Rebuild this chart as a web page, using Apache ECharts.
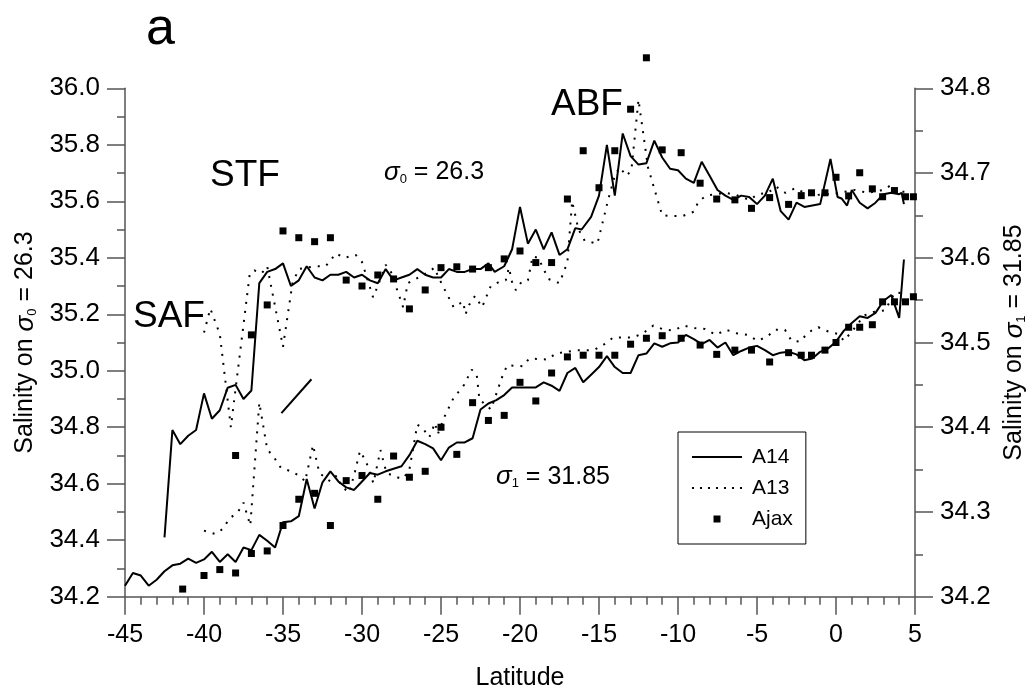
<!DOCTYPE html>
<html><head><meta charset="utf-8">
<script src="https://cdn.jsdelivr.net/npm/echarts/dist/echarts.min.js"></script>
<style>html,body{margin:0;padding:0;background:#fff}#c{width:1034px;height:690px}</style>
</head><body><div id="c"></div>
<script>
// Latitude ticks
const xTicks = [-45, -40, -35, -30, -25, -20, -15, -10, -5, 0, 5];
const leftTicks = ['34.2','34.4','34.6','34.8','35.0','35.2','35.4','35.6','35.8','36.0'];
const rightTicks = ['34.2','34.3','34.4','34.5','34.6','34.7','34.8'];
const legendNames = ['A14', 'A13', 'Ajax'];

// Salinity on sigma0 = 26.3 (left axis)
const a14Upper = [[-42.5,34.41],[-42,34.79],[-41.5,34.74],[-41,34.77],[-40.5,34.79],[-40,34.92],[-39.5,34.83],[-39,34.86],[-38.5,34.94],[-38,34.95],[-37.5,34.90],[-37,34.93],[-36.5,35.31],[-36,35.35],[-35.5,35.36],[-35,35.38],[-34.5,35.30],[-34,35.32],[-33.5,35.37],[-33,35.33],[-32.5,35.32],[-32,35.34],[-31.5,35.34],[-31,35.35],[-30.5,35.33],[-30,35.34],[-29.5,35.32],[-29,35.31],[-28.5,35.36],[-28,35.32],[-27.5,35.33],[-27,35.34],[-26.5,35.36],[-26,35.34],[-25.5,35.33],[-25,35.33],[-24.5,35.36],[-24,35.35],[-23.5,35.35],[-23,35.36],[-22.5,35.36],[-22,35.38],[-21.6,35.35],[-21,35.37],[-20.5,35.43],[-20,35.58],[-19.5,35.45],[-19,35.50],[-18.5,35.43],[-18,35.49],[-17.5,35.41],[-17,35.43],[-16.5,35.505],[-16.1,35.50],[-15.5,35.545],[-15,35.62],[-14.5,35.80],[-14,35.62],[-13.5,35.84],[-13,35.76],[-12.5,35.73],[-12,35.735],[-11.5,35.815],[-11,35.755],[-10.5,35.715],[-10,35.71],[-9.5,35.68],[-9,35.665],[-8.5,35.74],[-8,35.69],[-7.5,35.64],[-7,35.62],[-6.5,35.605],[-6,35.62],[-5.5,35.615],[-5,35.59],[-4.5,35.62],[-4,35.68],[-3.5,35.565],[-3,35.535],[-2.5,35.595],[-2,35.58],[-1.5,35.585],[-1,35.59],[-0.35,35.75],[0.1,35.615],[0.35,35.61],[0.7,35.585],[1,35.64],[1.5,35.595],[2,35.575],[2.5,35.595],[3,35.625],[3.5,35.63],[4,35.625],[4.15,35.63],[4.3,35.59]];
const a14Segment = [[-35.1,34.85],[-33.2,34.97]];
const a13Upper = [[-40.0,35.135],[-39.6,35.22],[-39.0,35.13],[-38.3,34.80],[-37.1,35.345],[-36.8,35.355],[-36.35,35.345],[-36.0,35.37],[-35.0,35.085],[-34.4,35.31],[-34.0,35.36],[-33.0,35.37],[-32.3,35.37],[-31.65,35.415],[-31.1,35.40],[-30.4,35.41],[-30.0,35.385],[-29.3,35.26],[-29.0,35.30],[-28.5,35.375],[-28.2,35.355],[-27.4,35.225],[-27.1,35.31],[-26.6,35.325],[-25.8,35.35],[-25.4,35.365],[-25.2,35.335],[-24.2,35.225],[-23.6,35.245],[-23.45,35.20],[-23.2,35.235],[-22.85,35.265],[-22.4,35.225],[-21.85,35.30],[-21.3,35.315],[-20.9,35.32],[-20.7,35.365],[-20.45,35.30],[-20.25,35.285],[-19.9,35.315],[-19.5,35.32],[-19.2,35.405],[-18.85,35.40],[-18.2,35.325],[-17.5,35.31],[-17.0,35.385],[-16.7,35.60],[-16.3,35.50],[-15.9,35.46],[-15.1,35.45],[-14.4,35.61],[-14.0,35.69],[-13.7,35.72],[-13.25,35.69],[-12.95,35.71],[-12.5,35.96],[-11.9,35.72],[-11.0,35.55],[-10.4,35.548],[-9.7,35.548],[-9.0,35.563],[-8.7,35.60],[-8.2,35.62],[-7.0,35.63],[-6.3,35.622],[-5.5,35.605],[-4.9,35.626],[-4.3,35.63],[-3.8,35.652],[-3.2,35.63],[-2.6,35.646],[-2.0,35.63],[-1.3,35.622],[0.0,35.628],[1.2,35.64],[2.0,35.63],[3.0,35.64],[3.5,35.658],[3.9,35.634],[4.5,35.634]];
const ajaxUpper = [[-38,34.70],[-37,35.127],[-36,35.233],[-35,35.495],[-34,35.471],[-33,35.457],[-32,35.471],[-31,35.321],[-30,35.30],[-29,35.339],[-28,35.325],[-27,35.219],[-26,35.286],[-25,35.365],[-24,35.368],[-23,35.36],[-22,35.365],[-21,35.396],[-20,35.424],[-19,35.383],[-18,35.383],[-17,35.608],[-16,35.779],[-15,35.648],[-14,35.779],[-13,35.926],[-12,36.108],[-11,35.782],[-9.8,35.772],[-8.6,35.664],[-7.55,35.608],[-6.4,35.605],[-5.35,35.575],[-4.2,35.613],[-3,35.589],[-2.2,35.62],[-1.55,35.63],[-0.7,35.63],[0,35.685],[0.8,35.619],[1.5,35.701],[2.3,35.644],[2.95,35.616],[3.7,35.638],[4.4,35.616],[4.9,35.616]];

// Salinity on sigma1 = 31.85 (right axis)
const a14Lower = [[-45,34.213],[-44.5,34.228],[-44,34.225],[-43.5,34.213],[-43,34.22],[-42.5,34.23],[-42,34.237],[-41.5,34.239],[-41,34.245],[-40.5,34.24],[-40,34.244],[-39.5,34.253],[-39,34.241],[-38.5,34.25],[-38,34.241],[-37.5,34.258],[-37,34.255],[-36.5,34.273],[-36,34.266],[-35.5,34.258],[-35,34.288],[-34.5,34.289],[-34,34.295],[-33.5,34.339],[-33,34.304],[-32.5,34.335],[-32,34.348],[-31.5,34.336],[-31,34.329],[-30.5,34.326],[-30,34.336],[-29.5,34.346],[-29,34.344],[-28.5,34.348],[-28,34.351],[-27.5,34.354],[-27,34.367],[-26.5,34.384],[-26,34.38],[-25.5,34.375],[-25,34.361],[-24.5,34.376],[-24,34.382],[-23.5,34.382],[-23,34.387],[-22.5,34.421],[-22,34.428],[-21.5,34.432],[-21,34.438],[-20.5,34.447],[-20,34.447],[-19.5,34.447],[-19,34.447],[-18.5,34.453],[-18,34.449],[-17.5,34.443],[-17,34.464],[-16.5,34.47],[-16,34.453],[-15.5,34.462],[-15,34.471],[-14.5,34.484],[-14,34.471],[-13.5,34.464],[-13,34.464],[-12.5,34.485],[-12,34.487],[-11.5,34.499],[-11,34.495],[-10.5,34.499],[-10,34.5],[-9.5,34.509],[-9,34.504],[-8.5,34.498],[-8,34.503],[-7.5,34.494],[-7,34.5],[-6.5,34.485],[-6,34.49],[-5.5,34.494],[-5,34.496],[-4.5,34.491],[-4,34.485],[-3.5,34.488],[-3,34.489],[-2.5,34.486],[-2,34.479],[-1.5,34.481],[-1,34.489],[-0.5,34.493],[0,34.501],[0.5,34.514],[1,34.523],[1.5,34.531],[2,34.529],[2.5,34.535],[3,34.549],[3.5,34.556],[4,34.529],[4.3,34.598]];
const a13Lower = [[-40.0,34.278],[-39.3,34.274],[-38.8,34.28],[-38.4,34.292],[-37.85,34.30],[-37.5,34.311],[-37.07,34.284],[-36.5,34.429],[-36.0,34.374],[-35.55,34.364],[-35.13,34.352],[-34.5,34.348],[-33.9,34.342],[-33.6,34.336],[-33.1,34.379],[-32.7,34.346],[-32.0,34.336],[-31.6,34.343],[-31.3,34.33],[-30.8,34.323],[-30.44,34.348],[-30.13,34.372],[-29.75,34.36],[-29.28,34.334],[-28.83,34.373],[-28.45,34.346],[-27.5,34.339],[-27.03,34.347],[-26.5,34.403],[-26.16,34.399],[-25.74,34.388],[-25.38,34.405],[-25.2,34.392],[-24.79,34.412],[-24.22,34.434],[-23.54,34.45],[-23.06,34.468],[-22.74,34.462],[-22.57,34.433],[-21.84,34.421],[-21.1,34.461],[-20.81,34.473],[-19.84,34.472],[-19.42,34.481],[-18.27,34.48],[-17.72,34.487],[-16.38,34.491],[-15.32,34.491],[-14.66,34.498],[-14.09,34.506],[-12.83,34.506],[-12.2,34.511],[-11.56,34.52],[-11.0,34.516],[-10.3,34.514],[-9.62,34.52],[-8.99,34.517],[-8.3,34.516],[-7.6,34.509],[-6.96,34.515],[-6.29,34.511],[-5.6,34.509],[-4.96,34.502],[-4.35,34.507],[-3.86,34.515],[-3.23,34.515],[-2.81,34.502],[-2.28,34.501],[-1.75,34.512],[-1.12,34.518],[-0.49,34.513],[0.15,34.51],[0.5,34.502],[1.09,34.515],[1.79,34.532],[2.36,34.536],[3.1,34.538],[3.73,34.559],[4.37,34.558]];
const ajaxLower = [[-41.35,34.209],[-40,34.225],[-39,34.232],[-38,34.228],[-37,34.251],[-36,34.254],[-35,34.284],[-34,34.315],[-33,34.322],[-32,34.284],[-31,34.337],[-30,34.343],[-29,34.315],[-28,34.366],[-27,34.341],[-26,34.348],[-25,34.40],[-24,34.368],[-23,34.429],[-22,34.408],[-21,34.414],[-20,34.453],[-19,34.431],[-18,34.464],[-17,34.483],[-16,34.485],[-15,34.485],[-14,34.485],[-13,34.498],[-12,34.505],[-11,34.508],[-9.8,34.505],[-8.6,34.497],[-7.55,34.486],[-6.4,34.491],[-5.35,34.491],[-4.2,34.477],[-3,34.488],[-2.2,34.485],[-1.55,34.485],[-0.7,34.491],[0,34.50],[0.8,34.518],[1.5,34.518],[2.3,34.521],[2.95,34.548],[3.7,34.548],[4.4,34.548],[4.9,34.554]];

const FONT = '"Liberation Sans", Arial, sans-serif';
const AX = '#555';
const chart = echarts.init(document.getElementById('c'), null, {renderer: 'canvas'});
const solid = {color: '#000', width: 2, type: 'solid'};
const dotted = {color: '#000', width: 2, type: [2, 7], cap: 'butt'};
const titleRich = {
  t: {fontSize: 25, fontFamily: FONT, color: '#000', lineHeight: 26},
  i: {fontSize: 26, fontFamily: FONT, fontStyle: 'italic', color: '#000', lineHeight: 26},
  s: {fontSize: 13, fontFamily: FONT, color: '#000', lineHeight: 8, verticalAlign: 'bottom'}
};
function yAx(ticks, pos, name, interval) {
  return {
    type: 'value', position: pos, min: Number(ticks[0]), max: Number(ticks[ticks.length - 1]), interval: interval,
    name: name, nameLocation: 'middle', nameRotate: 90, nameGap: 82,
    nameTextStyle: {fontSize: 25, fontFamily: FONT, color: '#000', rich: titleRich},
    axisLine: {show: true, onZero: false, lineStyle: {color: AX, width: 1.5}},
    axisTick: {show: true, length: 18, lineStyle: {color: AX, width: 1.5}},
    minorTick: {show: true, splitNumber: 2, length: 8, lineStyle: {color: AX, width: 1.5}},
    splitLine: {show: false}, minorSplitLine: {show: false},
    axisLabel: {margin: 25, fontSize: 26, fontFamily: FONT, color: '#000',
      formatter: v => ticks.find(t => Math.abs(Number(t) - v) < 1e-6) || ''}
  };
}
// legend icons (shape only, no data)
const dotsPath = 'path://' + Array.from({length: 7}, (_, k) => 'M' + (k * 8) + ',0h2v2h-2z').join(' ');
const option = {
  animation: false,
  backgroundColor: '#fff',
  grid: {left: 125, right: 119, top: 88.3, bottom: 93.3, containLabel: false, outerBoundsMode: 'none'},
  xAxis: {
    type: 'value', min: xTicks[0], max: xTicks[xTicks.length - 1], interval: 5,
    name: 'Latitude', nameLocation: 'middle', nameGap: 69,
    nameTextStyle: {fontSize: 25, fontFamily: FONT, color: '#000'},
    axisLine: {show: true, onZero: false, lineStyle: {color: AX, width: 1.5}},
    axisTick: {show: true, length: 18, lineStyle: {color: AX, width: 1.5}},
    minorTick: {show: true, splitNumber: 5, length: 8, lineStyle: {color: AX, width: 1.5}},
    splitLine: {show: false}, minorSplitLine: {show: false},
    axisLabel: {margin: 26, fontSize: 25, fontFamily: FONT, color: '#000', formatter: v => String(v)}
  },
  yAxis: [
    yAx(leftTicks, 'left', '{t|Salinity on }{i|σ}{s|0}{t| = 26.3}', 0.2),
    yAx(rightTicks, 'right', '{t|Salinity on }{i|σ}{s|1}{t| = 31.85}', 0.1)
  ],
  legend: {
    data: [
      {name: legendNames[0], icon: 'path://M0,0h50v2h-50z'},
      {name: legendNames[1], icon: dotsPath},
      {name: legendNames[2], icon: 'path://M0,0h7v7h-7z'}
    ],
    orient: 'vertical', left: 678, top: 432, symbolKeepAspect: true,
    padding: [14, 13, 14, 14], itemGap: 9, itemWidth: 50, itemHeight: 7,
    borderColor: '#000', borderWidth: 1, backgroundColor: '#fff',
    itemStyle: {color: '#000', opacity: 1},
    textStyle: {fontSize: 21, fontFamily: FONT, color: '#000', lineHeight: 22, padding: [0, 0, 0, 5]}
  },
  series: [
    {name: 'A14', type: 'line', yAxisIndex: 0, data: a14Upper, symbol: 'none', showSymbol: false, lineStyle: solid, itemStyle: {color: '#000'}, z: 3},
    {name: 'A14seg', type: 'line', yAxisIndex: 0, data: a14Segment, symbol: 'none', showSymbol: false, lineStyle: solid, itemStyle: {color: '#000'}, z: 3},
    {name: 'A14', type: 'line', yAxisIndex: 1, data: a14Lower, symbol: 'none', showSymbol: false, lineStyle: solid, itemStyle: {color: '#000'}, z: 3},
    {name: 'A13', type: 'line', yAxisIndex: 0, data: a13Upper, symbol: 'none', showSymbol: false, lineStyle: dotted, itemStyle: {color: '#000'}, z: 2},
    {name: 'A13', type: 'line', yAxisIndex: 1, data: a13Lower, symbol: 'none', showSymbol: false, lineStyle: dotted, itemStyle: {color: '#000'}, z: 2},
    {name: 'Ajax', type: 'scatter', yAxisIndex: 0, data: ajaxUpper, symbol: 'rect', symbolSize: 7, itemStyle: {color: '#000', opacity: 1}, clip: false, z: 4},
    {name: 'Ajax', type: 'scatter', yAxisIndex: 1, data: ajaxLower, symbol: 'rect', symbolSize: 7, itemStyle: {color: '#000', opacity: 1}, clip: false, z: 4}
  ],
  graphic: [
    {type: 'text', left: 146, top: 4, style: {text: 'a', fontSize: 52, fontFamily: FONT, fill: '#000'}},
    {type: 'text', x: 133, y: 317, style: {text: 'SAF', fontSize: 37, fontFamily: FONT, fill: '#000', verticalAlign: 'middle'}},
    {type: 'text', x: 210, y: 175.5, style: {text: 'STF', fontSize: 37, fontFamily: FONT, fill: '#000', verticalAlign: 'middle'}},
    {type: 'text', x: 551, y: 105, style: {text: 'ABF', fontSize: 37, fontFamily: FONT, fill: '#000', verticalAlign: 'middle'}},
    {type: 'text', x: 384, y: 172.5, style: {text: '{i|σ}{s|0}{t| = 26.3}', rich: titleRich, verticalAlign: 'middle'}},
    {type: 'text', x: 496, y: 476.7, style: {text: '{i|σ}{s|1}{t| = 31.85}', rich: titleRich, verticalAlign: 'middle'}}
  ]
};
chart.setOption(option);
</script>
</body></html>
